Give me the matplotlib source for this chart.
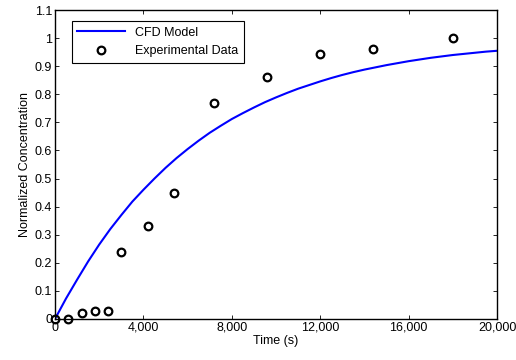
import matplotlib

matplotlib.use("Agg")

from matplotlib import pyplot as plt
from matplotlib.ticker import FuncFormatter

plt.rcParams["font.family"] = ["Liberation Sans", "DejaVu Sans"]

# CFD model curve (every 500 s)
model_t = list(range(0, 20001, 500))
model_c = [0.0, 0.073, 0.14, 0.205, 0.265, 0.32, 0.37, 0.418, 0.46, 0.50,
           0.538, 0.573, 0.605, 0.635, 0.663, 0.688, 0.712, 0.733, 0.753, 0.772,
           0.789, 0.805, 0.82, 0.833, 0.846, 0.858, 0.869, 0.879, 0.888, 0.896,
           0.904, 0.911, 0.918, 0.924, 0.93, 0.935, 0.94, 0.944, 0.948, 0.952, 0.955]

# experimental points
exp_t = [0, 600, 1200, 1800, 2400, 3000, 4200, 5400, 7200, 9600, 12000, 14400, 18000]
exp_c = [0.0, 0.0, 0.02, 0.03, 0.03, 0.24, 0.33, 0.45, 0.77, 0.86, 0.945, 0.962, 1.0]

x_ticks = [0, 4000, 8000, 12000, 16000, 20000]
y_ticks = [0, 0.1, 0.2, 0.3, 0.4, 0.5, 0.6, 0.7, 0.8, 0.9, 1.0, 1.1]

fig = plt.figure(figsize=(5.16, 3.6), dpi=100)
ax = fig.add_axes([0.1066, 0.114, 0.8566, 0.858])

ax.plot(model_t, model_c, color="#0000FF", linewidth=1.5, label="CFD Model")
ax.plot(exp_t, exp_c, linestyle="none", marker="o", markersize=5.5,
        markerfacecolor="none", markeredgecolor="black", markeredgewidth=1.6,
        label="Experimental Data", clip_on=False)

ax.set_xlim(0, 20000)
ax.set_ylim(0, 1.1)
ax.set_xticks(x_ticks)
ax.set_yticks(y_ticks)
ax.xaxis.set_major_formatter(FuncFormatter(lambda v, p: f"{int(v):,}"))
ax.yaxis.set_major_formatter(FuncFormatter(lambda v, p: f"{v:g}"))
ax.tick_params(direction="in", top=True, right=True, length=3, width=0.6,
               labelsize=9, pad=2)
for s in ax.spines.values():
    s.set_linewidth(1.0)

ax.set_xlabel("Time (s)", fontsize=9, labelpad=1)
ax.set_ylabel("Normalized Concentration", fontsize=9, labelpad=3)

leg = ax.legend(loc="upper left", bbox_to_anchor=(0.038, 0.964), fontsize=9,
                fancybox=False, framealpha=1, edgecolor="black",
                handlelength=3.8, borderpad=0.45, labelspacing=0.5,
                borderaxespad=0)
leg.get_frame().set_linewidth(0.8)

fig.savefig("out.png", dpi=100)
